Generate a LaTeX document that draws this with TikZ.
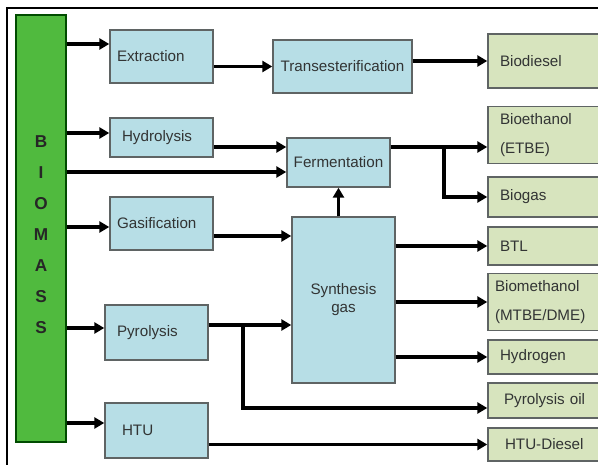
\documentclass[tikz,border=0pt]{standalone}
\usepackage{fontspec}
\setmainfont{Liberation Sans}
\usetikzlibrary{arrows.meta,positioning,calc}
\definecolor{procblue}{RGB}{183,222,230}
\definecolor{prodgreen}{RGB}{215,228,190}
\definecolor{biomassgreen}{RGB}{80,186,62}
\definecolor{boxline}{RGB}{95,100,100}
\definecolor{textgray}{RGB}{50,52,52}

\tikzset{
  proc/.style={draw=boxline, fill=procblue, line width=0.7pt, minimum width=51.5pt,
    text=textgray, font=\fontsize{7.6}{9}\selectfont},
  prod/.style={draw=boxline, fill=prodgreen, line width=0.7pt, minimum width=66pt,
    text width=54pt, inner xsep=6pt, align=left, text=textgray, font=\fontsize{7.6}{9}\selectfont},
  arr/.style={-{Triangle[length=5pt,width=5.5pt]}, line width=1.75pt},
}

\begin{document}
\begin{tikzpicture}[x=0.5pt,y=-0.5pt]
  \useasboundingbox (0,0) rectangle (598,465);
  \clip (0,0) rectangle (598,465);

  % Frame
  \draw[line width=0.8pt] (598,8) -- (7,8) -- (7,465);

  % Biomass column
  \node[draw=green!30!black, fill=biomassgreen, line width=0.6pt,
        minimum width=25pt, minimum height=213.5pt] (bar) at (41,228.5) {};
  \foreach \letter [count=\i] in {B,I,O,M,A,S,S}
    \node[font=\fontsize{8.6}{10}\selectfont\bfseries, text=black!85] (letter\i) at (41,111+31*\i) {\letter};

  % Conversion steps
  \node[proc, minimum height=26.5pt, text width=44.5pt, inner xsep=3.5pt, align=left] (extraction) at (161.5,56.5) {Extraction};
  \node[proc, minimum width=69.5pt, minimum height=26.5pt] (transest) at (342.5,66.5) {Transesterification};
  \node[proc, minimum height=19.5pt, text width=39.5pt, inner xsep=6pt, align=left] (hydrolysis) at (161.5,137.5) {Hydrolysis};
  \node[proc, minimum height=24.5pt] (fermentation) at (338.5,162.5) {Fermentation};
  \node[proc, minimum height=26.5pt, text width=44.5pt, inner xsep=3.5pt, align=left] (gasification) at (161.5,223.5) {Gasification};
  \node[proc, minimum height=83pt, align=center] (syngas) at (343.5,300) {Synthesis\\gas};
  \node[proc, minimum height=27.5pt, text width=39.5pt, inner xsep=6pt, align=left] (pyrolysis) at (156.5,332.5) {Pyrolysis};
  \node[proc, minimum height=27.5pt, text width=34.5pt, inner xsep=8.5pt, align=left] (htu) at (156.5,430.5) {HTU};

  % Products
  \node[prod, minimum height=27pt] (biodiesel) at (554,61) {Biodiesel\\[6pt]};
  \node[prod, minimum height=27pt] (bioethanol) at (554,135) {Bioethanol\\[5.5pt](ETBE)};
  \node[prod, minimum height=20pt] (biogas) at (554,197) {Biogas};
  \node[prod, minimum height=19pt] (btl) at (554,246) {BTL};
  \node[prod, minimum height=27pt, inner xsep=3.5pt, text width=59pt] (biomethanol) at (554,302) {Biomethanol\\[5.5pt](MTBE/DME)};
  \node[prod, minimum height=17pt] (hydrogen) at (554,357) {Hydrogen};
  \node[prod, minimum height=17.5pt, inner xsep=8pt, text width=50pt] (pyroil) at (554,400.5) {Pyrolysis oil};
  \node[prod, minimum height=16.5pt, inner xsep=8.5pt, text width=49pt] (htudiesel) at (554,444.5) {HTU-Diesel};

  % Forks
  \coordinate (ferm fork) at (444,147);
  \coordinate (pyro fork) at (243,325);

  % Connections
  \draw[arr] (bar.east |- 0,44) -- (extraction.west |- 0,44);
  \draw[arr] (extraction.east |- transest.west) -- (transest.west);
  \draw[arr] (transest.east |- biodiesel.west) -- (biodiesel.west);
  \draw[arr] (bar.east |- 0,133) -- (hydrolysis.west |- 0,133);
  \draw[arr] (hydrolysis.east |- 0,147) -- (fermentation.west |- 0,147);
  \draw[arr] (bar.east |- 0,172) -- (fermentation.west |- 0,172);
  \draw[arr] (fermentation.east |- ferm fork) -- (bioethanol.west |- ferm fork);
  \draw[arr] (ferm fork) |- (biogas.west);
  \draw[arr] (bar.east |- 0,227) -- (gasification.west |- 0,227);
  \draw[arr] (gasification.east |- 0,236) -- (syngas.west |- 0,236);
  \draw[arr] (syngas.north -| fermentation.south) -- (fermentation.south);
  \draw[arr] (syngas.east |- btl.west) -- (btl.west);
  \draw[arr] (syngas.east |- biomethanol.west) -- (biomethanol.west);
  \draw[arr] (syngas.east |- hydrogen.west) -- (hydrogen.west);
  \draw[arr] (bar.east |- 0,328) -- (pyrolysis.west |- 0,328);
  \draw[arr] (pyrolysis.east |- pyro fork) -- (syngas.west |- pyro fork);
  \draw[arr] (pyro fork) |- (pyroil.west |- 0,408);
  \draw[arr] (bar.east |- 0,423) -- (htu.west |- 0,423);
  \draw[arr] (htu.east |- htudiesel.west) -- (htudiesel.west);
\end{tikzpicture}
\end{document}
